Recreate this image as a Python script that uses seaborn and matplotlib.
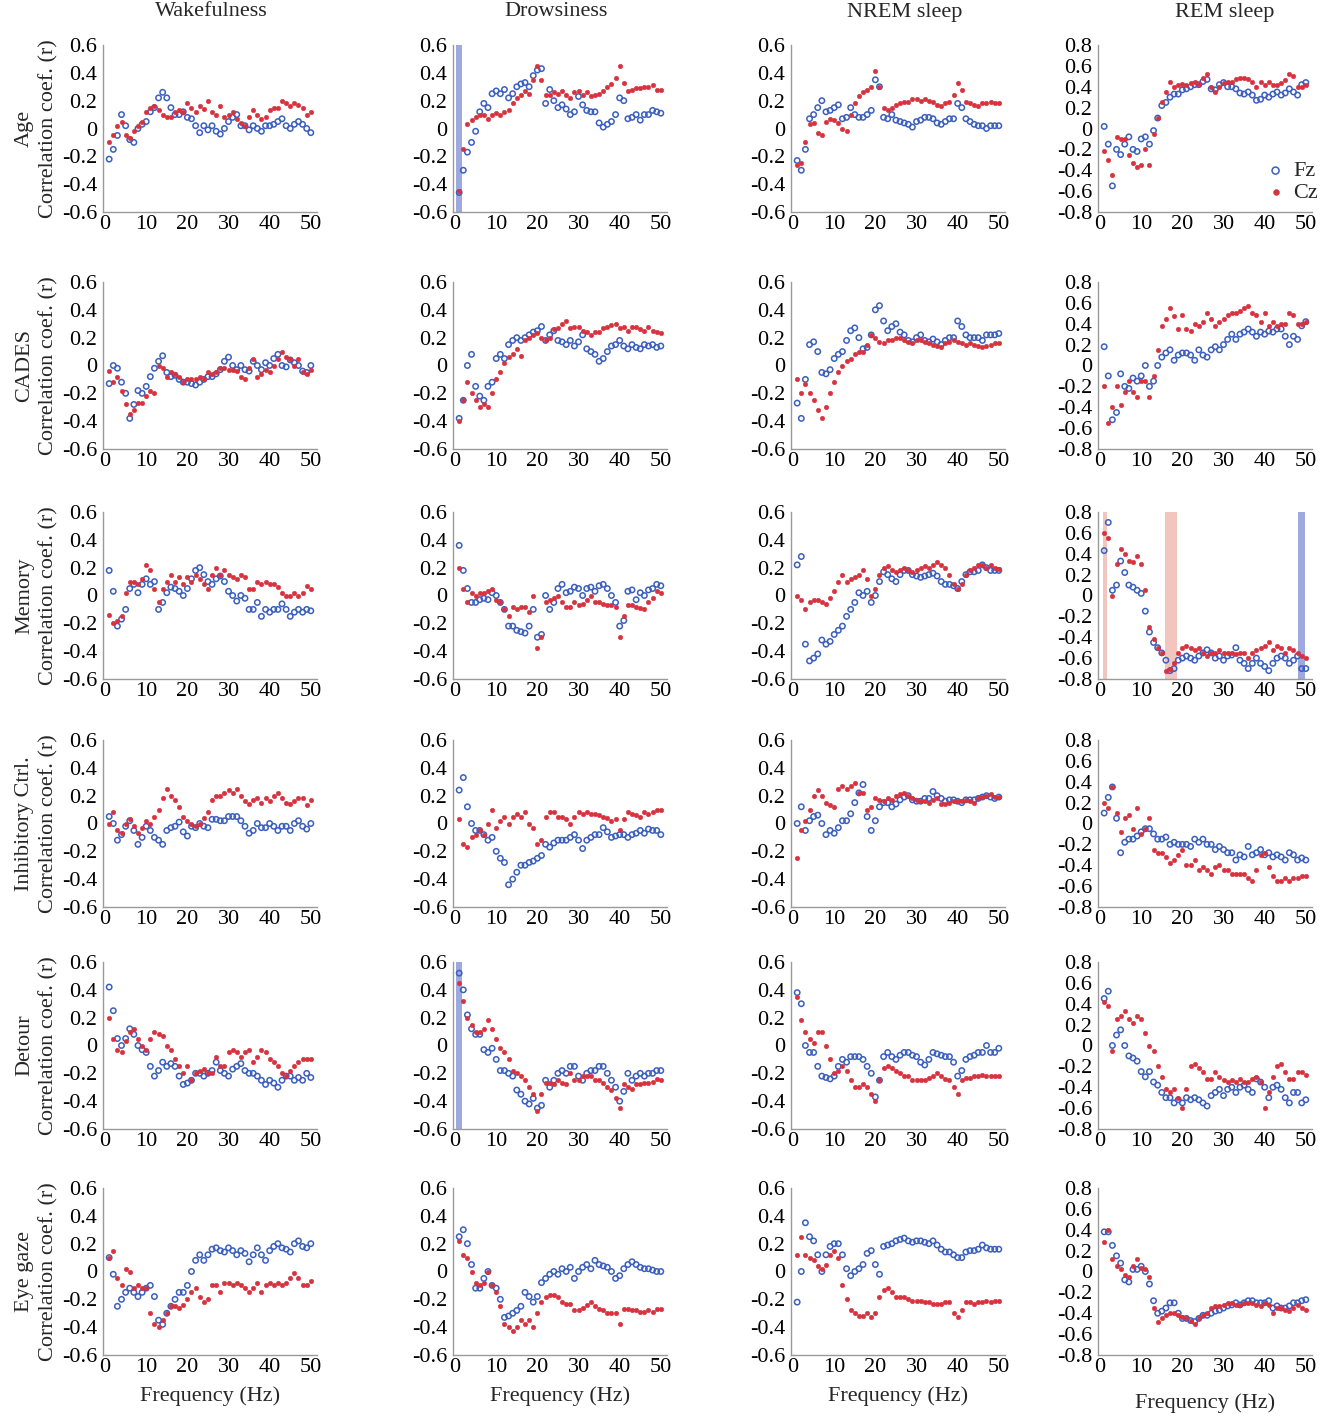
import numpy as np
import pandas as pd
import seaborn as sns
import matplotlib.pyplot as plt
from matplotlib.ticker import FuncFormatter, MultipleLocator

freq = list(range(1, 51))

row_labels = ["Age", "CADES", "Memory", "Inhibitory Ctrl.", "Detour", "Eye gaze"]
states = ["Wakefulness", "Drowsiness", "NREM sleep", "REM sleep"]

# Age
fz_age_wake = [-0.22, -0.15, -0.05, 0.10, 0.02, -0.08, -0.10, 0.0, 0.03, 0.05, 0.12, 0.15, 0.22, 0.26, 0.22, 0.15, 0.10, 0.10, 0.12, 0.08,
               0.07, 0.02, -0.03, 0.02, -0.01, 0.02, -0.02, -0.04, 0.0, 0.05, 0.08, 0.10, 0.02, 0.02, -0.01, 0.02, 0.0, -0.02, 0.02, 0.02,
               0.03, 0.05, 0.07, 0.02, 0.0, 0.03, 0.05, 0.03, 0.0, -0.03]
cz_age_wake = [-0.10, -0.05, 0.02, 0.05, -0.05, -0.07, -0.02, 0.02, 0.05, 0.12, 0.15, 0.16, 0.13, 0.10, 0.08, 0.08, 0.12, 0.13, 0.12, 0.18,
               0.15, 0.12, 0.16, 0.14, 0.20, 0.12, 0.10, 0.16, 0.08, 0.10, 0.12, 0.07, 0.04, 0.02, 0.08, 0.13, 0.10, 0.07, 0.08, 0.13,
               0.15, 0.15, 0.20, 0.18, 0.16, 0.18, 0.17, 0.15, 0.10, 0.12]
fz_age_drow = [-0.46, -0.30, -0.17, -0.10, -0.02, 0.12, 0.18, 0.15, 0.25, 0.27, 0.25, 0.28, 0.22, 0.25, 0.30, 0.32, 0.33, 0.30, 0.38, 0.42,
               0.43, 0.18, 0.28, 0.20, 0.15, 0.17, 0.14, 0.10, 0.12, 0.23, 0.17, 0.13, 0.12, 0.12, 0.04, 0.01, 0.03, 0.05, 0.10, 0.22,
               0.20, 0.07, 0.08, 0.10, 0.06, 0.10, 0.10, 0.13, 0.12, 0.11]
cz_age_drow = [-0.45, -0.15, 0.03, 0.06, 0.08, 0.10, 0.10, 0.07, 0.10, 0.11, 0.10, 0.12, 0.13, 0.18, 0.22, 0.24, 0.27, 0.25, 0.35, 0.45,
               0.35, 0.24, 0.24, 0.26, 0.25, 0.27, 0.24, 0.22, 0.26, 0.27, 0.24, 0.26, 0.23, 0.24, 0.25, 0.27, 0.30, 0.32, 0.36, 0.45,
               0.33, 0.27, 0.28, 0.29, 0.29, 0.30, 0.30, 0.31, 0.28, 0.28]
fz_age_nrem = [-0.23, -0.30, -0.15, 0.07, 0.10, 0.15, 0.20, 0.12, 0.13, 0.15, 0.17, 0.07, 0.08, 0.15, 0.10, 0.08, 0.08, 0.10, 0.13, 0.35,
               0.30, 0.08, 0.07, 0.10, 0.06, 0.05, 0.04, 0.03, 0.01, 0.05, 0.06, 0.08, 0.08, 0.07, 0.04, 0.03, 0.05, 0.07, 0.07, 0.18,
               0.15, 0.07, 0.05, 0.03, 0.02, 0.02, 0.0, 0.02, 0.02, 0.02]
cz_age_nrem = [-0.26, -0.25, -0.10, 0.03, 0.04, -0.03, -0.05, 0.05, 0.07, 0.06, 0.04, 0.0, -0.02, 0.10, 0.18, 0.23, 0.26, 0.28, 0.30, 0.41,
               0.30, 0.15, 0.13, 0.15, 0.17, 0.18, 0.19, 0.19, 0.21, 0.21, 0.20, 0.21, 0.20, 0.19, 0.17, 0.16, 0.18, 0.19, 0.24, 0.33,
               0.28, 0.19, 0.18, 0.17, 0.16, 0.18, 0.18, 0.19, 0.18, 0.18]
fz_age_rem = [0.02, -0.15, -0.55, -0.20, -0.25, -0.15, -0.08, -0.20, -0.22, -0.10, -0.08, -0.15, -0.02, 0.10, 0.22, 0.25, 0.30, 0.33, 0.33, 0.37,
              0.38, 0.40, 0.42, 0.42, 0.45, 0.47, 0.38, 0.37, 0.42, 0.44, 0.40, 0.40, 0.38, 0.34, 0.33, 0.35, 0.32, 0.27, 0.28, 0.32,
              0.30, 0.33, 0.35, 0.32, 0.34, 0.38, 0.35, 0.32, 0.42, 0.44]
cz_age_rem = [-0.22, -0.30, -0.45, -0.08, -0.10, -0.10, -0.25, -0.33, -0.37, -0.35, -0.20, -0.35, -0.05, 0.10, 0.25, 0.35, 0.45, 0.40, 0.42, 0.43,
              0.42, 0.44, 0.45, 0.43, 0.48, 0.52, 0.40, 0.35, 0.40, 0.44, 0.45, 0.45, 0.47, 0.48, 0.48, 0.47, 0.45, 0.40, 0.45, 0.42,
              0.45, 0.42, 0.42, 0.44, 0.46, 0.52, 0.50, 0.40, 0.40, 0.42]

# CADES
fz_cades_wake = [-0.13, 0.0, -0.02, -0.12, -0.20, -0.38, -0.28, -0.18, -0.20, -0.15, -0.08, -0.02, 0.03, 0.07, -0.05, -0.08, -0.07, -0.10, -0.12, -0.12,
                 -0.13, -0.14, -0.12, -0.10, -0.08, -0.08, -0.06, -0.03, 0.03, 0.06, 0.0, -0.03, 0.0, -0.03, -0.04, 0.03, 0.0, -0.03, 0.02, 0.0,
                 0.05, 0.08, 0.0, -0.01, 0.04, 0.02, 0.0, -0.04, -0.05, 0.0]
cz_cades_wake = [-0.04, -0.12, -0.08, -0.18, -0.28, -0.35, -0.32, -0.27, -0.27, -0.22, -0.18, -0.20, 0.0, -0.02, -0.08, -0.05, -0.06, -0.08, -0.12, -0.10,
                 -0.10, -0.10, -0.08, -0.10, -0.05, -0.06, -0.05, -0.02, -0.02, -0.03, -0.03, -0.04, -0.08, -0.10, -0.02, 0.05, -0.08, -0.06, -0.03, -0.05,
                 0.0, 0.05, 0.10, 0.06, 0.05, 0.0, 0.05, -0.05, -0.06, -0.03]
fz_cades_drow = [-0.38, -0.25, 0.0, 0.08, -0.15, -0.22, -0.25, -0.15, -0.12, 0.05, 0.08, 0.05, 0.15, 0.18, 0.20, 0.18, 0.20, 0.22, 0.24, 0.25,
                 0.28, 0.18, 0.22, 0.25, 0.18, 0.17, 0.15, 0.18, 0.14, 0.17, 0.22, 0.12, 0.10, 0.08, 0.03, 0.05, 0.10, 0.14, 0.15, 0.18,
                 0.14, 0.12, 0.15, 0.13, 0.12, 0.15, 0.14, 0.15, 0.13, 0.14]
cz_cades_drow = [-0.40, -0.25, -0.12, -0.20, -0.25, -0.30, -0.28, -0.30, -0.20, -0.10, -0.05, 0.02, 0.06, 0.08, 0.12, 0.07, 0.18, 0.20, 0.22, 0.23,
                 0.20, 0.18, 0.20, 0.26, 0.27, 0.30, 0.32, 0.27, 0.28, 0.28, 0.25, 0.24, 0.22, 0.24, 0.24, 0.27, 0.28, 0.29, 0.30, 0.27,
                 0.28, 0.25, 0.28, 0.28, 0.26, 0.25, 0.28, 0.25, 0.24, 0.23]
fz_cades_nrem = [-0.27, -0.38, -0.10, 0.15, 0.17, 0.10, -0.05, -0.06, -0.03, 0.05, 0.08, 0.10, 0.18, 0.25, 0.27, 0.20, 0.12, 0.13, 0.22, 0.40,
                 0.43, 0.32, 0.25, 0.28, 0.30, 0.24, 0.22, 0.18, 0.17, 0.20, 0.22, 0.18, 0.17, 0.19, 0.17, 0.15, 0.18, 0.20, 0.20, 0.32,
                 0.28, 0.22, 0.20, 0.20, 0.20, 0.18, 0.22, 0.22, 0.22, 0.23]
cz_cades_nrem = [-0.10, -0.20, -0.13, -0.20, -0.25, -0.32, -0.38, -0.30, -0.20, -0.12, -0.05, 0.0, 0.03, 0.05, 0.08, 0.10, 0.10, 0.15, 0.22, 0.20,
                 0.17, 0.16, 0.18, 0.18, 0.20, 0.20, 0.18, 0.17, 0.16, 0.18, 0.18, 0.17, 0.16, 0.15, 0.14, 0.13, 0.16, 0.17, 0.18, 0.17,
                 0.16, 0.15, 0.16, 0.15, 0.14, 0.13, 0.14, 0.15, 0.16, 0.16]
fz_cades_rem = [0.18, -0.10, -0.52, -0.45, -0.08, -0.20, -0.22, -0.12, -0.15, -0.10, 0.0, -0.20, -0.15, 0.0, 0.08, 0.12, 0.15, 0.05, 0.10, 0.12,
                0.12, 0.10, 0.05, 0.15, 0.10, 0.08, 0.15, 0.18, 0.15, 0.20, 0.25, 0.30, 0.25, 0.30, 0.32, 0.35, 0.32, 0.28, 0.32, 0.30,
                0.33, 0.32, 0.35, 0.35, 0.28, 0.20, 0.28, 0.25, 0.38, 0.42]
cz_cades_rem = [-0.20, -0.55, -0.40, -0.20, -0.38, -0.25, -0.15, -0.25, -0.30, -0.15, -0.15, -0.30, -0.10, 0.15, 0.38, 0.45, 0.55, 0.47, 0.35, 0.48,
                0.35, 0.33, 0.40, 0.38, 0.42, 0.50, 0.45, 0.38, 0.42, 0.45, 0.48, 0.50, 0.50, 0.52, 0.55, 0.57, 0.50, 0.48, 0.42, 0.50,
                0.38, 0.42, 0.38, 0.40, 0.40, 0.50, 0.48, 0.40, 0.40, 0.42]

# Memory
fz_mem_wake = [0.18, 0.03, -0.22, -0.17, -0.10, 0.05, 0.08, 0.02, 0.08, 0.12, 0.08, 0.10, -0.10, -0.05, 0.02, 0.06, 0.05, 0.03, 0.0, 0.05,
               0.12, 0.18, 0.20, 0.15, 0.10, 0.08, 0.12, 0.14, 0.10, 0.03, 0.0, -0.04, 0.0, -0.02, -0.10, -0.10, -0.05, -0.15, -0.10, -0.12,
               -0.10, -0.10, -0.06, -0.10, -0.15, -0.12, -0.10, -0.12, -0.10, -0.11]
cz_mem_wake = [-0.14, -0.20, -0.18, -0.15, 0.02, 0.10, 0.10, 0.08, 0.12, 0.22, 0.18, 0.05, -0.05, 0.05, 0.10, 0.15, 0.10, 0.13, 0.08, 0.13,
               0.10, 0.15, 0.12, 0.08, 0.05, 0.15, 0.20, 0.15, 0.18, 0.15, 0.13, 0.12, 0.15, 0.13, 0.05, 0.05, 0.10, 0.08, 0.10, 0.08,
               0.08, 0.06, 0.02, 0.0, 0.0, 0.02, 0.0, 0.02, 0.07, 0.05]
fz_mem_drow = [0.36, 0.18, 0.05, -0.05, -0.05, -0.03, -0.02, -0.03, 0.02, 0.0, -0.05, -0.10, -0.22, -0.22, -0.25, -0.26, -0.27, -0.22, -0.10, -0.30,
               -0.28, 0.0, -0.10, -0.05, 0.05, 0.08, 0.02, 0.03, 0.06, 0.05, 0.0, 0.05, 0.06, 0.03, 0.07, 0.08, 0.05, 0.0, -0.05, -0.22,
               -0.18, 0.03, 0.04, -0.03, 0.02, 0.0, 0.04, 0.05, 0.08, 0.07]
cz_mem_drow = [0.20, 0.05, -0.05, 0.02, 0.0, 0.02, 0.02, 0.03, 0.05, -0.03, -0.05, -0.10, -0.15, -0.08, -0.10, -0.08, -0.08, -0.12, 0.0, -0.38,
               -0.30, -0.05, -0.03, -0.02, 0.0, -0.05, -0.08, -0.08, -0.05, -0.07, -0.06, -0.03, 0.0, -0.05, -0.05, -0.06, -0.07, -0.07, -0.08, -0.30,
               -0.15, -0.07, -0.07, -0.08, -0.09, -0.10, -0.05, -0.02, 0.03, 0.02]
fz_mem_nrem = [0.22, 0.28, -0.35, -0.47, -0.45, -0.42, -0.32, -0.35, -0.33, -0.28, -0.25, -0.22, -0.15, -0.10, -0.05, 0.02, 0.0, 0.03, -0.05, 0.0,
               0.10, 0.17, 0.15, 0.12, 0.10, 0.15, 0.18, 0.18, 0.15, 0.14, 0.13, 0.14, 0.15, 0.16, 0.14, 0.10, 0.08, 0.08, 0.07, 0.05,
               0.10, 0.15, 0.17, 0.17, 0.18, 0.22, 0.20, 0.18, 0.18, 0.18]
cz_mem_nrem = [0.0, -0.03, -0.10, -0.05, -0.03, -0.03, -0.05, -0.06, -0.02, 0.03, 0.10, 0.15, 0.10, 0.12, 0.13, 0.15, 0.18, 0.12, 0.0, 0.05,
               0.15, 0.20, 0.21, 0.18, 0.17, 0.18, 0.20, 0.18, 0.17, 0.18, 0.20, 0.21, 0.20, 0.22, 0.24, 0.22, 0.20, 0.15, 0.08, 0.05,
               0.08, 0.15, 0.18, 0.20, 0.22, 0.22, 0.20, 0.22, 0.20, 0.19]
fz_mem_rem = [0.43, 0.70, 0.05, 0.10, 0.33, 0.22, 0.10, 0.08, 0.05, 0.02, -0.15, -0.35, -0.45, -0.50, -0.55, -0.62, -0.72, -0.70, -0.62, -0.60,
              -0.58, -0.60, -0.62, -0.58, -0.55, -0.52, -0.55, -0.60, -0.58, -0.62, -0.58, -0.57, -0.50, -0.62, -0.65, -0.70, -0.65, -0.60, -0.65, -0.68,
              -0.72, -0.65, -0.60, -0.58, -0.60, -0.65, -0.62, -0.58, -0.70, -0.70]
cz_mem_rem = [0.60, 0.55, 0.00, 0.30, 0.45, 0.40, 0.33, 0.32, 0.38, 0.30, 0.05, -0.30, -0.42, -0.50, -0.55, -0.72, -0.70, -0.65, -0.55, -0.50,
              -0.48, -0.50, -0.52, -0.50, -0.55, -0.58, -0.55, -0.55, -0.52, -0.55, -0.55, -0.55, -0.56, -0.55, -0.55, -0.60, -0.55, -0.52, -0.50, -0.48,
              -0.45, -0.52, -0.48, -0.50, -0.55, -0.50, -0.52, -0.55, -0.58, -0.60]

# Inhibitory control
fz_inh_wake = [0.05, 0.0, -0.12, -0.08, -0.02, 0.02, -0.05, -0.15, -0.10, -0.02, -0.05, -0.10, -0.12, -0.15, -0.05, -0.03, -0.02, 0.01, -0.06, -0.09,
               -0.02, -0.03, 0.0, -0.02, -0.03, 0.03, 0.03, 0.02, 0.02, 0.05, 0.05, 0.05, 0.02, -0.02, -0.07, -0.05, 0.0, -0.03, -0.03, 0.0,
               -0.02, -0.05, -0.02, -0.02, -0.05, 0.0, 0.02, -0.02, -0.04, 0.0]
cz_inh_wake = [0.0, 0.08, -0.05, -0.07, 0.0, 0.03, -0.02, -0.07, -0.03, 0.02, 0.0, 0.05, 0.10, 0.18, 0.25, 0.20, 0.17, 0.12, 0.05, 0.02,
               0.0, -0.02, 0.0, 0.04, 0.08, 0.17, 0.20, 0.20, 0.22, 0.24, 0.22, 0.25, 0.20, 0.16, 0.14, 0.17, 0.18, 0.15, 0.18, 0.16,
               0.20, 0.22, 0.18, 0.15, 0.14, 0.16, 0.18, 0.18, 0.13, 0.17]
fz_inh_drow = [0.24, 0.33, 0.12, 0.0, -0.05, -0.05, -0.08, -0.12, -0.10, -0.20, -0.25, -0.28, -0.44, -0.40, -0.35, -0.30, -0.30, -0.28, -0.27, -0.25,
               -0.23, -0.15, -0.17, -0.14, -0.12, -0.12, -0.12, -0.10, -0.08, -0.12, -0.18, -0.12, -0.10, -0.08, -0.08, -0.03, -0.06, -0.10, -0.09, -0.08,
               -0.08, -0.10, -0.08, -0.07, -0.05, -0.07, -0.04, -0.05, -0.05, -0.08]
cz_inh_drow = [0.03, -0.15, -0.17, -0.10, -0.08, -0.05, -0.08, 0.0, 0.10, -0.03, 0.02, 0.05, 0.0, 0.05, 0.07, 0.05, 0.08, 0.0, -0.03, -0.15,
               -0.12, 0.05, 0.08, 0.08, 0.05, 0.05, 0.03, 0.0, 0.05, 0.08, 0.07, 0.08, 0.07, 0.07, 0.06, 0.05, 0.04, 0.02, 0.03, -0.05,
               0.03, 0.08, 0.07, 0.06, 0.05, 0.08, 0.07, 0.08, 0.10, 0.10]
fz_inh_nrem = [0.0, 0.12, -0.05, 0.02, 0.05, 0.06, 0.0, -0.08, -0.05, -0.07, -0.03, 0.02, 0.02, 0.07, 0.15, 0.22, 0.28, 0.05, -0.05, 0.02,
               0.12, 0.15, 0.15, 0.12, 0.14, 0.17, 0.19, 0.20, 0.17, 0.16, 0.16, 0.18, 0.18, 0.23, 0.20, 0.18, 0.16, 0.17, 0.17, 0.16,
               0.15, 0.17, 0.17, 0.17, 0.18, 0.19, 0.20, 0.19, 0.18, 0.19]
cz_inh_nrem = [-0.25, -0.05, 0.02, 0.10, 0.20, 0.24, 0.20, 0.15, 0.13, 0.12, 0.25, 0.27, 0.25, 0.27, 0.29, 0.22, 0.22, 0.10, 0.12, 0.18,
               0.17, 0.16, 0.18, 0.17, 0.20, 0.21, 0.22, 0.20, 0.18, 0.17, 0.16, 0.16, 0.15, 0.17, 0.18, 0.14, 0.14, 0.15, 0.16, 0.16,
               0.16, 0.17, 0.16, 0.15, 0.18, 0.19, 0.20, 0.21, 0.19, 0.19]
fz_inh_rem = [0.10, 0.25, 0.35, 0.05, -0.28, -0.18, -0.15, -0.15, -0.12, -0.08, -0.05, -0.05, -0.10, -0.15, -0.15, -0.13, -0.20, -0.18, -0.20, -0.20,
              -0.20, -0.22, -0.15, -0.18, -0.15, -0.20, -0.20, -0.25, -0.22, -0.25, -0.28, -0.28, -0.35, -0.30, -0.32, -0.22, -0.30, -0.28, -0.25, -0.30,
              -0.28, -0.32, -0.30, -0.32, -0.35, -0.28, -0.30, -0.35, -0.33, -0.35]
cz_inh_rem = [0.20, 0.15, 0.35, 0.10, -0.08, 0.05, 0.08, -0.05, 0.15, -0.10, -0.05, 0.05, -0.25, -0.28, -0.28, -0.32, -0.38, -0.35, -0.30, -0.25,
              -0.40, -0.40, -0.35, -0.45, -0.42, -0.45, -0.48, -0.42, -0.40, -0.45, -0.45, -0.48, -0.48, -0.48, -0.48, -0.52, -0.55, -0.45, -0.30, -0.28,
              -0.42, -0.50, -0.55, -0.55, -0.52, -0.55, -0.52, -0.52, -0.50, -0.50]

# Detour
fz_det_wake = [0.42, 0.25, 0.05, 0.0, 0.05, 0.12, 0.08, 0.0, -0.03, -0.05, -0.15, -0.22, -0.18, -0.12, -0.15, -0.13, -0.15, -0.22, -0.28, -0.27,
               -0.25, -0.20, -0.20, -0.22, -0.20, -0.18, -0.12, -0.18, -0.20, -0.22, -0.17, -0.15, -0.13, -0.18, -0.20, -0.20, -0.22, -0.25, -0.28, -0.25,
               -0.27, -0.30, -0.25, -0.22, -0.22, -0.25, -0.23, -0.25, -0.20, -0.23]
cz_det_wake = [0.20, 0.05, -0.03, -0.05, 0.03, 0.10, 0.12, 0.05, 0.0, -0.03, 0.05, 0.10, 0.08, 0.07, 0.0, -0.03, -0.10, -0.15, -0.20, -0.15,
               -0.25, -0.20, -0.18, -0.17, -0.20, -0.20, -0.08, -0.15, -0.15, -0.05, -0.03, -0.05, -0.08, -0.05, -0.03, -0.12, -0.08, -0.03, -0.05, -0.10,
               -0.12, -0.15, -0.20, -0.22, -0.18, -0.15, -0.12, -0.10, -0.10, -0.10]
fz_det_drow = [0.52, 0.40, 0.22, 0.12, 0.08, 0.08, -0.03, -0.05, -0.02, -0.10, -0.18, -0.18, -0.20, -0.22, -0.32, -0.35, -0.40, -0.42, -0.38, -0.45,
               -0.43, -0.25, -0.30, -0.25, -0.20, -0.18, -0.20, -0.15, -0.15, -0.22, -0.25, -0.20, -0.18, -0.18, -0.15, -0.15, -0.20, -0.25, -0.30, -0.40,
               -0.33, -0.20, -0.25, -0.22, -0.20, -0.22, -0.20, -0.20, -0.18, -0.18]
cz_det_drow = [0.45, 0.32, 0.20, 0.15, 0.10, 0.10, 0.12, 0.18, 0.12, 0.05, -0.02, -0.05, -0.10, -0.18, -0.20, -0.22, -0.25, -0.30, -0.35, -0.47,
               -0.35, -0.27, -0.27, -0.28, -0.25, -0.27, -0.28, -0.20, -0.25, -0.25, -0.22, -0.22, -0.22, -0.25, -0.25, -0.27, -0.30, -0.32, -0.38, -0.45,
               -0.28, -0.30, -0.31, -0.28, -0.28, -0.27, -0.27, -0.26, -0.24, -0.25]
fz_det_nrem = [0.38, 0.30, 0.0, -0.05, -0.05, -0.15, -0.22, -0.23, -0.24, -0.22, -0.15, -0.10, -0.12, -0.08, -0.08, -0.08, -0.10, -0.15, -0.20, -0.37,
               -0.25, -0.08, -0.05, -0.08, -0.10, -0.07, -0.05, -0.05, -0.07, -0.08, -0.12, -0.14, -0.10, -0.05, -0.06, -0.07, -0.08, -0.08, -0.12, -0.22,
               -0.18, -0.10, -0.08, -0.07, -0.05, -0.05, 0.0, -0.05, -0.05, -0.02]
cz_det_nrem = [0.35, 0.18, 0.10, 0.05, 0.02, 0.10, 0.10, 0.0, -0.10, -0.20, -0.18, -0.15, -0.18, -0.25, -0.30, -0.30, -0.28, -0.30, -0.35, -0.40,
               -0.25, -0.16, -0.15, -0.16, -0.18, -0.20, -0.22, -0.22, -0.25, -0.25, -0.25, -0.25, -0.23, -0.22, -0.20, -0.22, -0.24, -0.25, -0.30, -0.35,
               -0.25, -0.23, -0.23, -0.22, -0.22, -0.21, -0.22, -0.22, -0.22, -0.22]
fz_det_rem = [0.45, 0.52, 0.0, 0.10, 0.15, 0.0, -0.10, -0.12, -0.15, -0.25, -0.30, -0.25, -0.35, -0.38, -0.45, -0.50, -0.50, -0.55, -0.52, -0.55,
              -0.50, -0.52, -0.50, -0.52, -0.55, -0.58, -0.48, -0.45, -0.42, -0.48, -0.42, -0.40, -0.45, -0.40, -0.38, -0.42, -0.45, -0.32, -0.35, -0.40,
              -0.50, -0.40, -0.38, -0.42, -0.50, -0.55, -0.45, -0.45, -0.55, -0.52]
cz_det_rem = [0.42, 0.38, -0.05, 0.25, 0.28, 0.33, 0.25, 0.22, 0.28, 0.25, 0.12, 0.0, -0.05, -0.20, -0.30, -0.42, -0.45, -0.42, -0.50, -0.60,
              -0.42, -0.20, -0.18, -0.22, -0.25, -0.32, -0.32, -0.25, -0.30, -0.33, -0.35, -0.33, -0.35, -0.32, -0.35, -0.35, -0.32, -0.30, -0.35, -0.60,
              -0.45, -0.30, -0.20, -0.18, -0.25, -0.32, -0.32, -0.25, -0.25, -0.28]

# Eye gaze
fz_eye_wake = [0.10, -0.02, -0.25, -0.20, -0.15, -0.12, -0.15, -0.18, -0.15, -0.12, -0.10, -0.18, -0.35, -0.38, -0.30, -0.25, -0.20, -0.15, -0.15, -0.10,
               0.0, 0.08, 0.12, 0.08, 0.12, 0.16, 0.17, 0.15, 0.14, 0.17, 0.15, 0.12, 0.15, 0.13, 0.07, 0.12, 0.17, 0.12, 0.08, 0.15,
               0.18, 0.20, 0.17, 0.16, 0.14, 0.20, 0.22, 0.18, 0.17, 0.20]
cz_eye_wake = [0.10, 0.15, -0.05, -0.10, 0.02, 0.0, -0.12, -0.10, -0.12, -0.12, -0.30, -0.38, -0.40, -0.35, -0.30, -0.25, -0.25, -0.26, -0.24, -0.20,
               -0.15, -0.12, -0.18, -0.22, -0.20, -0.10, -0.10, -0.15, -0.08, -0.08, -0.10, -0.08, -0.10, -0.12, -0.15, -0.12, -0.08, -0.15, -0.10, -0.08,
               -0.10, -0.08, -0.10, -0.08, -0.05, -0.01, -0.05, -0.10, -0.10, -0.07]
fz_eye_drow = [0.25, 0.30, 0.20, 0.05, -0.12, -0.12, -0.05, 0.0, -0.10, -0.12, -0.20, -0.33, -0.32, -0.30, -0.28, -0.25, -0.15, -0.18, -0.22, -0.18,
               -0.08, -0.05, -0.02, 0.0, -0.02, 0.02, 0.0, 0.03, -0.05, 0.0, 0.03, 0.05, 0.02, 0.08, 0.05, 0.04, 0.03, 0.0, -0.05, -0.03,
               0.02, 0.05, 0.07, 0.05, 0.03, 0.02, 0.02, 0.01, 0.0, 0.0]
cz_eye_drow = [0.22, 0.12, 0.10, 0.0, -0.08, -0.10, -0.08, 0.0, -0.10, -0.15, -0.25, -0.38, -0.40, -0.43, -0.40, -0.35, -0.38, -0.35, -0.40, -0.30,
               -0.22, -0.18, -0.17, -0.17, -0.18, -0.22, -0.23, -0.23, -0.28, -0.28, -0.26, -0.24, -0.22, -0.25, -0.27, -0.28, -0.30, -0.30, -0.30, -0.38,
               -0.27, -0.27, -0.28, -0.28, -0.29, -0.29, -0.28, -0.29, -0.27, -0.27]
fz_eye_nrem = [-0.22, 0.0, 0.35, 0.25, 0.22, 0.12, 0.0, 0.12, 0.18, 0.20, 0.20, 0.12, 0.02, -0.03, 0.0, 0.02, 0.05, 0.13, 0.15, 0.05,
               -0.02, 0.18, 0.19, 0.20, 0.22, 0.23, 0.24, 0.22, 0.21, 0.22, 0.22, 0.21, 0.20, 0.22, 0.19, 0.16, 0.14, 0.14, 0.12, 0.10,
               0.10, 0.14, 0.15, 0.15, 0.16, 0.19, 0.17, 0.16, 0.16, 0.16]
cz_eye_nrem = [0.12, 0.25, 0.12, 0.10, 0.08, 0.04, 0.02, 0.05, 0.12, 0.15, 0.10, -0.10, -0.20, -0.28, -0.30, -0.32, -0.32, -0.30, -0.33, -0.30,
               -0.18, -0.13, -0.12, -0.15, -0.18, -0.18, -0.18, -0.20, -0.21, -0.21, -0.21, -0.22, -0.22, -0.23, -0.23, -0.23, -0.22, -0.22, -0.30, -0.33,
               -0.28, -0.22, -0.22, -0.23, -0.22, -0.22, -0.21, -0.22, -0.21, -0.21]
fz_eye_rem = [0.38, 0.38, 0.25, 0.15, 0.08, -0.08, -0.10, 0.02, 0.02, 0.05, 0.0, -0.12, -0.28, -0.40, -0.38, -0.35, -0.30, -0.30, -0.40, -0.45,
              -0.45, -0.47, -0.48, -0.45, -0.42, -0.42, -0.40, -0.38, -0.37, -0.35, -0.33, -0.32, -0.30, -0.32, -0.30, -0.28, -0.28, -0.30, -0.30, -0.30,
              -0.28, -0.35, -0.33, -0.35, -0.35, -0.33, -0.30, -0.30, -0.28, -0.27]
cz_eye_rem = [0.28, 0.40, 0.12, 0.05, 0.02, -0.03, -0.05, 0.05, 0.12, 0.03, 0.02, -0.05, -0.35, -0.48, -0.45, -0.42, -0.40, -0.40, -0.42, -0.44,
              -0.45, -0.47, -0.50, -0.45, -0.42, -0.40, -0.35, -0.33, -0.33, -0.32, -0.30, -0.30, -0.32, -0.32, -0.30, -0.30, -0.30, -0.32, -0.33, -0.30,
              -0.32, -0.40, -0.35, -0.35, -0.37, -0.38, -0.35, -0.32, -0.35, -0.37]

fz_grid = [
    [fz_age_wake, fz_age_drow, fz_age_nrem, fz_age_rem],
    [fz_cades_wake, fz_cades_drow, fz_cades_nrem, fz_cades_rem],
    [fz_mem_wake, fz_mem_drow, fz_mem_nrem, fz_mem_rem],
    [fz_inh_wake, fz_inh_drow, fz_inh_nrem, fz_inh_rem],
    [fz_det_wake, fz_det_drow, fz_det_nrem, fz_det_rem],
    [fz_eye_wake, fz_eye_drow, fz_eye_nrem, fz_eye_rem],
]
cz_grid = [
    [cz_age_wake, cz_age_drow, cz_age_nrem, cz_age_rem],
    [cz_cades_wake, cz_cades_drow, cz_cades_nrem, cz_cades_rem],
    [cz_mem_wake, cz_mem_drow, cz_mem_nrem, cz_mem_rem],
    [cz_inh_wake, cz_inh_drow, cz_inh_nrem, cz_inh_rem],
    [cz_det_wake, cz_det_drow, cz_det_nrem, cz_det_rem],
    [cz_eye_wake, cz_eye_drow, cz_eye_nrem, cz_eye_rem],
]

# shaded frequency bands: (row, col, start Hz, end Hz, channel)
bands = [
    (0, 1, 0.2, 1.6, "Fz"),
    (2, 3, 0.6, 1.6, "Cz"),
    (2, 3, 15.8, 18.8, "Cz"),
    (2, 3, 48.0, 49.8, "Fz"),
    (4, 1, 0.3, 1.6, "Fz"),
]

blue = "#3a5fbf"
red = "#d8323f"
band_colors = {"Fz": "#9ea9df", "Cz": "#f3c5bf"}

sns.set_style("ticks")
plt.rcParams["font.family"] = ["Liberation Serif", "DejaVu Serif"]

W, H = 1325, 1418
fig = plt.figure(figsize=(W / 100, H / 100), dpi=100)

col_left = [103, 453, 791, 1098]
row_top = [45, 282, 512, 740, 962, 1188]
ax_w, ax_h = 214, 167
title_x = [211, 556, 905, 1225]

fmt = FuncFormatter(lambda v, p: "0" if abs(v) < 1e-9 else f"{v:.1f}")

for r in range(6):
    for c in range(4):
        ax = fig.add_axes([col_left[c] / W, 1 - (row_top[r] + ax_h) / H, ax_w / W, ax_h / H])
        lim = 0.8 if c == 3 else 0.6
        for (br, bc, b0, b1, ch) in bands:
            if br == r and bc == c:
                ax.axvspan(b0, b1, color=band_colors[ch], lw=0, zorder=0)
        df = pd.DataFrame({"freq": freq, "Fz": fz_grid[r][c], "Cz": cz_grid[r][c]})
        sns.scatterplot(data=df, x="freq", y="Fz", ax=ax, marker="o", s=15,
                        facecolors="none", edgecolor=blue, linewidth=1.1,
                        label="Fz", clip_on=False, zorder=3)
        sns.scatterplot(data=df, x="freq", y="Cz", ax=ax, marker="o", s=11,
                        color=red, edgecolor=red, linewidth=0.3,
                        label="Cz", clip_on=False, zorder=4)
        ax.set_xlim(-0.5, 51.5)
        ax.set_ylim(-lim, lim)
        ax.xaxis.set_major_locator(MultipleLocator(10))
        ax.yaxis.set_major_locator(MultipleLocator(0.2))
        ax.yaxis.set_major_formatter(fmt)
        ax.tick_params(length=0, labelsize=16, pad=4, colors="black")
        ax.tick_params(axis="x", pad=2)
        sns.despine(ax=ax)
        for side in ["left", "bottom"]:
            ax.spines[side].set_color("#9a9a9a")
            ax.spines[side].set_linewidth(1.0)
        ax.grid(False)
        if c == 0:
            ax.set_ylabel(row_labels[r] + "\nCorrelation coef. (r)", fontsize=16, labelpad=3, linespacing=1.3)
        else:
            ax.set_ylabel("")
        if r == 5:
            ax.set_xlabel("Frequency (Hz)", fontsize=16, labelpad=7 if c != 3 else 12)
        else:
            ax.set_xlabel("")
        if r == 0 and c == 3:
            ax.legend(loc="lower right", frameon=False, fontsize=16, handletextpad=-0.2,
                      borderaxespad=0.0, labelspacing=0.05, markerscale=1.3, bbox_to_anchor=(1.07, 0.0))
        else:
            leg = ax.get_legend()
            if leg is not None:
                leg.remove()

for c in range(4):
    fig.text(title_x[c] / W, 1 - 12 / H, states[c], ha="center", va="center", fontsize=16)

fig.savefig("out.png", dpi=100)
